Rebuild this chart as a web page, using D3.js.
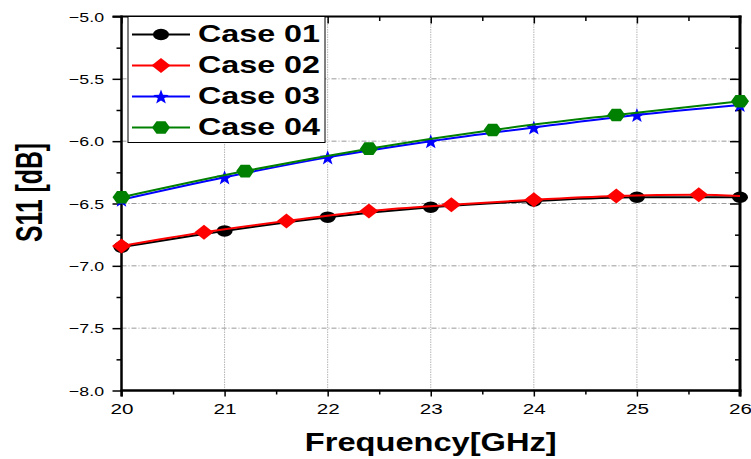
<!DOCTYPE html>
<html>
<head>
<meta charset="utf-8">
<script src="https://cdn.jsdelivr.net/npm/d3@7"></script>
<style>
  html, body { margin: 0; padding: 0; background: #fff; }
  svg { display: block; font-family: "Liberation Sans", Arial, sans-serif; }
</style>
</head>
<body>
<svg id="chart" width="751" height="459"></svg>
<script>
// ---- data ----
const seriesNames = ["Case 01", "Case 02", "Case 03", "Case 04"];
const seriesColors = ["#000000", "#ff0000", "#0000ff", "#008000"];
const seriesMarkers = ["circle", "diamond", "star", "hexagon"];

const case01X = [20, 21, 22, 23, 24, 25, 26];
const case01Y = [-6.85, -6.72, -6.61, -6.53, -6.48, -6.45, -6.45];

const case02X = [20, 20.8, 21.6, 22.4, 23.2, 24.0, 24.8, 25.6, 26];
const case02Y = [-6.84, -6.73, -6.64, -6.56, -6.51, -6.47, -6.44, -6.43, -6.44];
const case02Marked = [1, 1, 1, 1, 1, 1, 1, 1, 0];

const case03X = [20, 21, 22, 23, 24, 25, 26];
const case03Y = [-6.47, -6.29, -6.13, -6.00, -5.89, -5.79, -5.71];

const case04X = [20, 21.2, 22.4, 23.6, 24.8, 26];
const case04Y = [-6.45, -6.24, -6.06, -5.91, -5.79, -5.68];

const xTicks = [20, 21, 22, 23, 24, 25, 26];
const xMinorTicks = [20.5, 21.5, 22.5, 23.5, 24.5, 25.5];
const yTicks = [-8.0, -7.5, -7.0, -6.5, -6.0, -5.5, -5.0];
const yMinorTicks = [-7.75, -7.25, -6.75, -6.25, -5.75, -5.25];

const xTitle = "Frequency[GHz]";
const yTitle = "S11 [dB]";

// ---- layout ----
const L = 121.5, R = 740, T = 16.5, B = 390.5;
const svg = d3.select("#chart");
const x = d3.scaleLinear().domain([20, 26]).range([L, R]);
const y = d3.scaleLinear().domain([-8, -5]).range([B, T]);

// grid
const grid = svg.append("g");
grid.selectAll(".hg").data(yTicks.filter(v => v > -8 && v < -5)).enter()
  .append("line")
  .attr("x1", L).attr("x2", R).attr("y1", d => y(d)).attr("y2", d => y(d))
  .attr("stroke", "#9a9a9a").attr("stroke-width", 1)
  .attr("stroke-dasharray", "5,2,1,2");
grid.selectAll(".vg").data(xTicks.filter(v => v > 20 && v < 26)).enter()
  .append("line")
  .attr("y1", T).attr("y2", B).attr("x1", d => x(d)).attr("x2", d => x(d))
  .attr("stroke", "#b4b4b4").attr("stroke-width", 1)
  .attr("stroke-dasharray", "1.5,1");

// axes
const fmt = d3.format(".1f");
const bottomAxis = d3.axisBottom(x).tickValues(xTicks).tickSize(6).tickFormat(d3.format("d"));
const gB = svg.append("g").attr("transform", `translate(0,${B})`).call(bottomAxis);
gB.select(".domain").remove();
gB.selectAll(".tick line").attr("stroke", "#000").attr("stroke-width", 1.5);
gB.selectAll(".tick text").attr("y", 15).attr("dy", "0.6em")
  .attr("font-size", 14).attr("fill", "#000")
  .attr("font-family", "Liberation Sans, Arial, sans-serif")
  .attr("textLength", 23).attr("lengthAdjust", "spacingAndGlyphs");
const bottomMinor = d3.axisBottom(x).tickValues(xMinorTicks).tickSize(4).tickFormat("");
const gBm = svg.append("g").attr("transform", `translate(0,${B})`).call(bottomMinor);
gBm.select(".domain").remove();
gBm.selectAll(".tick line").attr("stroke", "#000").attr("stroke-width", 1.5);

const leftAxis = d3.axisLeft(y).tickValues(yTicks).tickSize(9).tickFormat(fmt);
const gL = svg.append("g").attr("transform", `translate(${L},0)`).call(leftAxis);
gL.select(".domain").remove();
gL.selectAll(".tick line").attr("stroke", "#000").attr("stroke-width", 1.5);
gL.selectAll(".tick text").attr("x", -17.5).attr("dy", "0.34em")
  .attr("font-size", 13.5).attr("fill", "#000")
  .attr("font-family", "Liberation Sans, Arial, sans-serif")
  .attr("textLength", 35).attr("lengthAdjust", "spacingAndGlyphs");
const leftMinor = d3.axisLeft(y).tickValues(yMinorTicks).tickSize(5).tickFormat("");
const gLm = svg.append("g").attr("transform", `translate(${L},0)`).call(leftMinor);
gLm.select(".domain").remove();
gLm.selectAll(".tick line").attr("stroke", "#000").attr("stroke-width", 1.5);

// top ticks (inward)
const topAxis = d3.axisTop(x).tickValues(xTicks).tickSize(-7).tickFormat("");
const gT = svg.append("g").attr("transform", `translate(0,${T})`).call(topAxis);
gT.select(".domain").remove();
gT.selectAll(".tick line").attr("stroke", "#000").attr("stroke-width", 1.5);
const topMinor = d3.axisTop(x).tickValues(xMinorTicks).tickSize(-4.5).tickFormat("");
const gTm = svg.append("g").attr("transform", `translate(0,${T})`).call(topMinor);
gTm.select(".domain").remove();
gTm.selectAll(".tick line").attr("stroke", "#000").attr("stroke-width", 1.5);

// right ticks (inward)
const rightAxis = d3.axisRight(y).tickValues(yTicks).tickSize(-10).tickFormat("");
const gR = svg.append("g").attr("transform", `translate(${R},0)`).call(rightAxis);
gR.select(".domain").remove();
gR.selectAll(".tick line").attr("stroke", "#000").attr("stroke-width", 1.5);
const rightMinor = d3.axisRight(y).tickValues(yMinorTicks).tickSize(-5).tickFormat("");
const gRm = svg.append("g").attr("transform", `translate(${R},0)`).call(rightMinor);
gRm.select(".domain").remove();
gRm.selectAll(".tick line").attr("stroke", "#000").attr("stroke-width", 1.5);

// frame
svg.append("line").attr("x1", L - 9).attr("x2", R + 1.5).attr("y1", T).attr("y2", T)
  .attr("stroke", "#000").attr("stroke-width", 2);
svg.append("line").attr("x1", L - 1).attr("x2", R + 1.5).attr("y1", B).attr("y2", B)
  .attr("stroke", "#000").attr("stroke-width", 2.3);
svg.append("line").attr("x1", L).attr("x2", L).attr("y1", T - 1).attr("y2", B + 6)
  .attr("stroke", "#000").attr("stroke-width", 2.5);
svg.append("line").attr("x1", R).attr("x2", R).attr("y1", T - 1).attr("y2", B + 6)
  .attr("stroke", "#000").attr("stroke-width", 3);

// marker shapes
function drawMarker(g, type, color, cx, cy) {
  if (type === "circle") {
    g.append("ellipse").attr("cx", cx).attr("cy", cy).attr("rx", 8).attr("ry", 5.8).attr("fill", color);
  } else if (type === "diamond") {
    g.append("path").attr("d", `M${cx - 9.5},${cy}L${cx},${cy - 7.5}L${cx + 9.5},${cy}L${cx},${cy + 7.5}Z`).attr("fill", color);
  } else if (type === "star") {
    const pts = [];
    for (let i = 0; i < 10; i++) {
      const r = i % 2 === 0 ? 7.8 : 3.2;
      const a = -Math.PI / 2 + i * Math.PI / 5;
      pts.push([cx + r * Math.cos(a) * 1.05, cy + 0.8 + r * Math.sin(a)]);
    }
    g.append("path").attr("d", "M" + pts.map(p => p.join(",")).join("L") + "Z").attr("fill", color);
  } else if (type === "hexagon") {
    g.append("path").attr("d", `M${cx - 9},${cy}L${cx - 4.5},${cy - 6.3}L${cx + 4.5},${cy - 6.3}L${cx + 9},${cy}L${cx + 4.5},${cy + 6.3}L${cx - 4.5},${cy + 6.3}Z`).attr("fill", color);
  }
}

// series
const allSeries = [
  { xs: case01X, ys: case01Y, marked: case01X.map(() => 1) },
  { xs: case02X, ys: case02Y, marked: case02Marked },
  { xs: case03X, ys: case03Y, marked: case03X.map(() => 1) },
  { xs: case04X, ys: case04Y, marked: case04X.map(() => 1) }
];
const line = d3.line().x(d => x(d[0])).y(d => y(d[1])).curve(d3.curveMonotoneX);
const plot = svg.append("g");
allSeries.forEach((s, i) => {
  const pts = s.xs.map((xv, j) => [xv, s.ys[j]]);
  plot.append("path").attr("d", line(pts)).attr("fill", "none")
    .attr("stroke", seriesColors[i]).attr("stroke-width", 2);
  const mg = plot.append("g");
  pts.forEach((p, j) => {
    if (s.marked[j]) drawMarker(mg, seriesMarkers[i], seriesColors[i], x(p[0]), y(p[1]));
  });
});

// legend
const lg = svg.append("g");
lg.append("rect").attr("x", 128).attr("y", 16.5).attr("width", 197).attr("height", 126)
  .attr("fill", "#fff").attr("stroke", "#000").attr("stroke-width", 1);
const rowY = [34.5, 65.5, 96.5, 127.5];
seriesNames.forEach((name, i) => {
  lg.append("line").attr("x1", 132).attr("x2", 190).attr("y1", rowY[i]).attr("y2", rowY[i])
    .attr("stroke", seriesColors[i]).attr("stroke-width", 2);
  drawMarker(lg, seriesMarkers[i], seriesColors[i], 161, rowY[i]);
  lg.append("text").attr("x", 198).attr("y", rowY[i] + 7.8)
    .attr("font-size", 24.5).attr("font-weight", "bold").attr("fill", "#000")
    .attr("textLength", 122).attr("lengthAdjust", "spacingAndGlyphs")
    .text(name);
});

// titles
svg.append("text").attr("x", (L + R) / 2).attr("y", 451).attr("text-anchor", "middle")
  .attr("font-size", 25.5).attr("font-weight", "bold").attr("fill", "#000")
  .attr("textLength", 252).attr("lengthAdjust", "spacingAndGlyphs")
  .text(xTitle);
svg.append("text").attr("transform", "translate(42,192.5) rotate(-90)")
  .attr("text-anchor", "middle")
  .attr("font-size", 36).attr("font-weight", "bold").attr("fill", "#000")
  .attr("textLength", 99).attr("lengthAdjust", "spacingAndGlyphs")
  .text(yTitle);
</script>
</body>
</html>
